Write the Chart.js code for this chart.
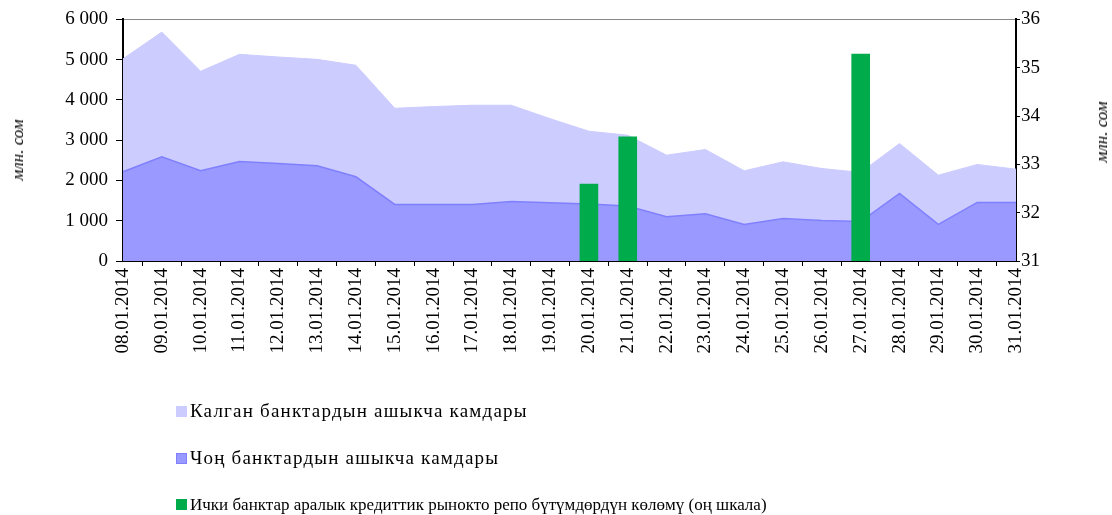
<!DOCTYPE html>
<html>
<head>
<meta charset="utf-8">
<script src="https://cdn.jsdelivr.net/npm/chart.js@4/dist/chart.umd.min.js"></script>
<style>
  html, body { margin: 0; padding: 0; background: #fff; }
  #wrap { position: relative; width: 1112px; height: 515px; }
  #legend { position: absolute; left: 176px; top: 0; font-family: "Liberation Serif", serif; font-size: 18px; color: #000; }
  .item { position: absolute; left: 0; white-space: nowrap; line-height: 20px; transform: translateY(-50%); }
  .box { display: inline-block; width: 11px; height: 11px; margin-right: 3px; }
  .ytitle { position: absolute; font-family: "Liberation Serif", serif; font-style: italic; font-size: 17px; white-space: nowrap;
            transform: translate(-50%, -50%) rotate(-90deg); }
</style>
</head>
<body>
<div id="wrap">
  <canvas id="myChart" width="1112" height="515"></canvas>
  <div class="ytitle" style="left:18px; top:150px;">млн. сом</div>
  <div class="ytitle" style="left:1102px; top:132px;">млн. сом</div>
  <div id="legend"></div>
</div>
<script>
// dates on the x axis
var dates = ['08.01.2014', '09.01.2014', '10.01.2014', '11.01.2014', '12.01.2014', '13.01.2014',
             '14.01.2014', '15.01.2014', '16.01.2014', '17.01.2014', '18.01.2014', '19.01.2014',
             '20.01.2014', '21.01.2014', '22.01.2014', '23.01.2014', '24.01.2014', '25.01.2014',
             '26.01.2014', '27.01.2014', '28.01.2014', '29.01.2014', '30.01.2014', '31.01.2014'];

// excess reserves, mln som (stacked areas, left scale)
var otherBanks = [2805, 3098, 2471, 2661, 2645, 2644, 2769, 2388, 2430, 2463, 2389, 2089,
                  1810, 1760, 1529, 1595, 1331, 1405, 1289, 1220, 1239, 1223, 943, 827];
var largeBanks = [2215, 2587, 2240, 2471, 2421, 2364, 2091, 1405, 1405, 1405, 1479, 1446,
                  1413, 1364, 1099, 1174, 909, 1058, 1008, 980, 1678, 909, 1454, 1454];

// repo deals volume, mln som (right scale)
var repoVolume = [null, null, null, null, null, null, null, null, null, null, null, null,
                  32.59, 33.57, null, null, null, null, null, 35.28, null, null, null, null];

var seriesNames = ['Калган банктардын ашыкча камдары',
                   'Чоң банктардын ашыкча камдары',
                   'Ички банктар аралык кредиттик рынокто репо бүтүмдөрдүн көлөмү (оң шкала)'];

var leftTicks = [0, 1000, 2000, 3000, 4000, 5000, 6000];
var rightTicks = [31, 32, 33, 34, 35, 36];

var serif = 'Liberation Serif';
Chart.defaults.color = '#000';

function fmt(v) {
  return String(v).replace(/\B(?=(\d{3})+(?!\d))/g, ' ');
}

var ctx = document.getElementById('myChart').getContext('2d');
var myChart = new Chart(ctx, {
  type: 'bar',
  data: {
    labels: dates,
    datasets: [{
      type: 'line',
      label: seriesNames[0],
      data: otherBanks,
      yAxisID: 'y',
      order: 2,
      fill: '+1',
      backgroundColor: '#CCCCFF',
      borderColor: '#CCCCFF',
      borderWidth: 1,
      pointRadius: 0,
      tension: 0
    }, {
      type: 'line',
      label: seriesNames[1],
      data: largeBanks,
      yAxisID: 'y',
      order: 1,
      fill: 'origin',
      backgroundColor: '#9999FF',
      borderColor: '#8080FF',
      borderWidth: 1.5,
      pointRadius: 0,
      tension: 0
    }, {
      type: 'bar',
      label: seriesNames[2],
      data: repoVolume,
      yAxisID: 'y1',
      order: 0,
      backgroundColor: '#00AB4B',
      barThickness: 18
    }]
  },
  options: {
    responsive: false,
    animation: false,
    layout: { padding: { top: 19, left: 0, right: 0, bottom: 0 } },
    plugins: { legend: { display: false }, tooltip: { enabled: false } },
    scales: {
      x: {
        offset: false,
        grid: { drawOnChartArea: false, tickColor: '#000', tickLength: 5 },
        border: { color: '#000', width: 2 },
        ticks: { autoSkip: false, maxRotation: 90, minRotation: 90, padding: 2,
                 font: { family: serif, size: 19 } },
        afterFit: function (s) { s.height = 254; }
      },
      y: {
        position: 'left',
        stacked: true,
        min: 0,
        max: 6000,
        afterBuildTicks: function (s) { s.ticks = leftTicks.map(function (v) { return { value: v }; }); },
        grid: {
          color: function (c) { return c.tick && c.tick.value === 6000 ? '#888888' : 'rgba(0,0,0,0)'; },
          tickColor: '#000', tickLength: 7
        },
        border: { color: '#000', width: 2 },
        ticks: { padding: 8, font: { family: serif, size: 19 }, callback: function (v) { return fmt(v); } },
        afterFit: function (s) { s.width = 123; }
      },
      y1: {
        position: 'right',
        min: 31,
        max: 36,
        afterBuildTicks: function (s) { s.ticks = rightTicks.map(function (v) { return { value: v }; }); },
        grid: { drawOnChartArea: false, tickColor: '#000', tickLength: 4 },
        border: { color: '#000', width: 2 },
        ticks: { padding: 1, font: { family: serif, size: 19 } },
        afterFit: function (s) { s.width = 96; }
      }
    }
  }
});

// vertical legend under the chart
var rows = [411, 458, 505];
var rowFont = ['19px', '19px', '17px'];
var spacing = ['1.2px', '1.2px', '0px'];
var legend = document.getElementById('legend');
myChart.data.datasets.forEach(function (ds, i) {
  var item = document.createElement('div');
  item.className = 'item';
  item.style.top = rows[i] + 'px';
  item.style.fontSize = rowFont[i];
  item.style.letterSpacing = spacing[i];
  var box = document.createElement('span');
  box.className = 'box';
  box.style.background = ds.backgroundColor;
  if (i === 1) {
    box.style.border = '1px solid #8080FF';
    box.style.width = '9px';
    box.style.height = '9px';
  }
  item.appendChild(box);
  item.appendChild(document.createTextNode(ds.label));
  legend.appendChild(item);
});
</script>
</body>
</html>
